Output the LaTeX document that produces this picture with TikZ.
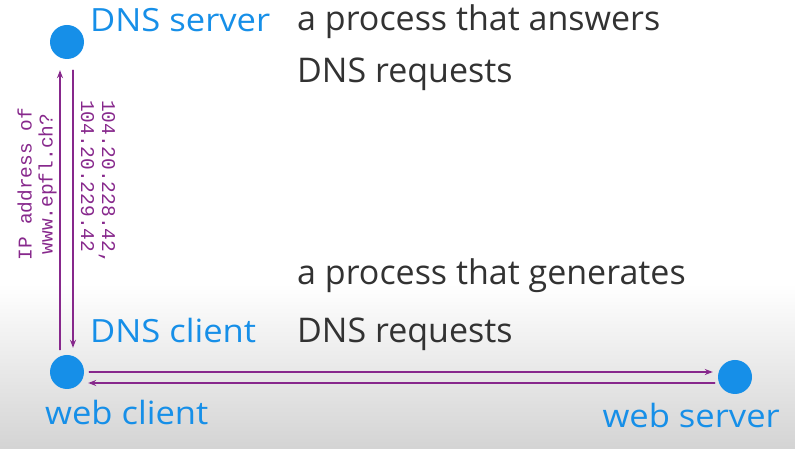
\documentclass[tikz,border=0pt]{standalone}
\usepackage{fontspec}
\setmainfont{Open Sans}
\newfontfamily\rolefont{Open Sans}[FakeStretch=1.08]
\newfontfamily\codefont{Liberation Mono}
\usetikzlibrary{arrows.meta,positioning}
\definecolor{dotblue}{RGB}{22,143,232}
\definecolor{msgpurple}{RGB}{135,40,140}
\definecolor{notegray}{RGB}{50,50,50}
\begin{document}
\begin{tikzpicture}[x=1pt, y=1pt, line join=round, line cap=round, >={Stealth[length=8pt,width=6pt]},
	dot/.style={circle, fill=dotblue, inner sep=0pt, minimum size=34pt},
	role/.style={text=dotblue, font=\rolefont\fontsize{32}{36}\selectfont, inner sep=0pt, anchor=base west},
	note/.style={text=notegray, font=\fontsize{34}{40}\selectfont, inner sep=0pt, anchor=base west},
	addr/.style={text=msgpurple, font=\codefont\fontsize{19.5}{21}\selectfont, align=center, inner sep=0pt},
	msg/.style={->, draw=msgpurple, line width=1.2pt}]
	\useasboundingbox (0,0) rectangle (795,449);
	\shade[top color=white, bottom color=black!17] (0,0) rectangle (795,165);
	% processes
	\node[dot] (dns) at (67,407) {};
	\node[dot] (client) at (67,77) {};
	\node[dot] (server) at (735,72) {};
	\node[role] (dnsname) at (90,417) {DNS server};
	\node[role] (clientname) at (90,106) {DNS client};
	\node[role] (webclient) at (45,24) {web client};
	\node[role, anchor=base east] (webserver) at (780,21) {web server};
	% explanations
	\node[note] (srvnote) at (297,418) {a process that answers};
	\node[note] (srvnote2) at (297,366) {DNS requests};
	\node[note] (clinote) at (297,164) {a process that generates};
	\node[note] (clinote2) at (297,106) {DNS requests};
	% DNS query and answer
	\draw[msg, shorten <=5pt, shorten >=11pt] ([xshift=-7pt]client.north) -- ([xshift=-7pt]client.north |- dns.south);
	\draw[msg, shorten <=11pt, shorten >=7pt] ([xshift=6pt]dns.south) -- ([xshift=6pt]dns.south |- client.north);
	\node[addr, rotate=90] (ask) at (37,265) {IP address of\\www.epfl.ch?};
	\node[addr, rotate=-90, align=left] (answer) at (98,267) {104.20.228.42,\\104.20.229.42};
	% web request and reply
	\draw[msg, shorten <=5pt, shorten >=5pt] (client.east) -- (client.east -| server.west);
	\draw[msg, shorten <=3pt, shorten >=4pt] ([yshift=-11pt]client.east -| server.west) -- ([yshift=-11pt]client.east);
\end{tikzpicture}
\end{document}
